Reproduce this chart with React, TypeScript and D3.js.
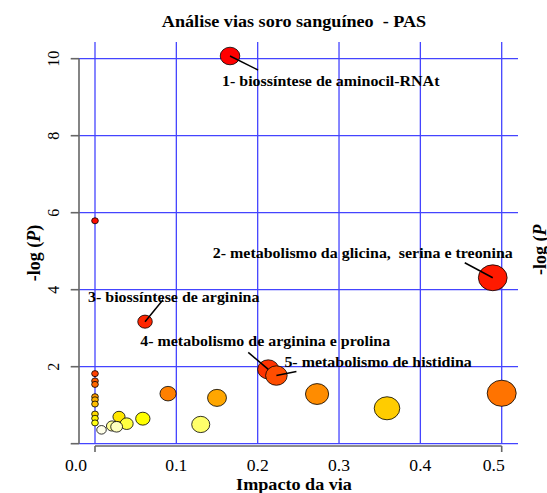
import React from "react";
import * as d3 from "d3";

// ---- data ----
const impact = [0.166, 0.489, 0.0615, 0.213, 0.223, 0, 0, 0, 0, 0, 0, 0, 0, 0, 0, 0.5, 0.0898, 0.273, 0.15, 0.359, 0.0295, 0.0588, 0.039, 0.13, 0.021, 0.0266, 0.008];
const negLogP = [10.07, 4.31, 3.17, 1.93, 1.77, 5.79, 1.82, 1.63, 1.54, 1.22, 1.14, 1.03, 0.77, 0.66, 0.54, 1.31, 1.3, 1.29, 1.19, 0.92, 0.7, 0.65, 0.52, 0.5, 0.46, 0.44, 0.36];
const annotLabels = [
  "1- biossíntese de aminocil-RNAt",
  "2- metabolismo da glicina,  serina e treonina",
  "3- biossíntese de arginina",
  "4- metabolismo de arginina e prolina",
  "5- metabolismo de histidina",
];
const xTicks = [0, 0.1, 0.2, 0.3, 0.4, 0.5];
const xTickLabels = ["0.0", "0.1", "0.2", "0.3", "0.4", "0.5"];
const yTicks = [0, 2, 4, 6, 8, 10];
const yTickLabels = ["", "2", "4", "6", "8", "10"];
const title = "Análise vias soro sanguíneo  - PAS";
const xTitle = "Impacto da via";

// R heat.colors(n)
function heatColors(n: number): string[] {
  const j = Math.floor(n / 4);
  const i = n - j;
  const out: string[] = [];
  for (let k = 0; k < i; k++) {
    const h = (i > 1 ? k / (i - 1) : 0) * (1 / 6);
    const g = Math.round(255 * 6 * h);
    out.push(d3.rgb(255, g, 0).formatHex());
  }
  for (let k = 0; k < j; k++) {
    const s0 = 1 - 1 / (2 * j);
    const s1 = 1 / (2 * j);
    const s = j > 1 ? s0 + (k * (s1 - s0)) / (j - 1) : s0;
    out.push(d3.rgb(255, 255, Math.round(255 * (1 - s))).formatHex());
  }
  return out;
}

const FONT = "'Liberation Serif', 'Times New Roman', serif";
const SX = 1.1; // the reference is slightly stretched horizontally

function SText(props: { x: number; y: number; anchor?: string; size: number; bold?: boolean; children: any }) {
  return (
    <text
      transform={`translate(${props.x},${props.y}) scale(${SX},1)`}
      textAnchor={(props.anchor || "start") as any}
      fontSize={props.size}
      fontWeight={props.bold ? "bold" : "normal"}
      style={{ whiteSpace: "pre" }}
    >
      {props.children}
    </text>
  );
}

export default function App() {
  const W = 547, H = 493;
  const x = d3.scaleLinear().domain([0, 0.5]).range([95, 501.7]);
  const y = d3.scaleLinear().domain([0, 10]).range([443.7, 58.7]);
  const r = d3.scaleSqrt().domain([0, 0.5]).range([3.35, 14.5]);
  const aspect = 0.9;

  const n = impact.length;
  const order = d3.range(n).sort((a, b) => negLogP[b] - negLogP[a]);
  const pal = heatColors(n);
  const color: string[] = new Array(n);
  order.forEach((idx, rank) => (color[idx] = pal[rank]));

  // annotation offsets relative to bubble centre
  const annot = [
    { line: [28, 14], text: [-8, 30], anchor: "start" },
    { line: [-28, -15], text: [20, -20], anchor: "end" },
    { line: [18, -22], text: [-57, -20], anchor: "start" },
    { line: [-20, -17], text: [-128, -23], anchor: "start" },
    { line: [20, -4], text: [8, -9], anchor: "start" },
  ];
  const xLabelDx = [-19, 0, 0, 0, 0, -8];

  const gridColor = "#4444ff";
  const axisColor = "#666666";
  const gridLeft = 79, gridRight = 518, gridTop = 42;

  return (
    <svg width={W} height={H} style={{ position: "absolute", left: 0, top: 0, background: "#fff" }} fontFamily={FONT}>
      <rect width={W} height={H} fill="#fff" />
      {/* title */}
      <SText x={294} y={27} anchor="middle" size={16.5} bold>
        {title}
      </SText>

      {/* grid */}
      {xTicks.map((t, i) => (
        <line key={"gx" + i} x1={x(t)} x2={x(t)} y1={gridTop} y2={y(0)} stroke={gridColor} strokeWidth={1.3} />
      ))}
      {yTicks.map((t, i) => (
        <line key={"gy" + i} x1={gridLeft} x2={gridRight} y1={y(t)} y2={y(t)} stroke={gridColor} strokeWidth={1.3} />
      ))}

      {/* y axis */}
      <line x1={79} x2={79} y1={y(0)} y2={y(10)} stroke={axisColor} strokeWidth={1.6} />
      {yTicks.map((t, i) => (
        <g key={"yt" + i}>
          <line x1={70.7} x2={79} y1={y(t)} y2={y(t)} stroke={axisColor} strokeWidth={1.6} />
          {yTickLabels[i] && (
            <text transform={`translate(59,${y(t)}) rotate(-90)`} textAnchor="middle" fontSize={16}>
              {yTickLabels[i]}
            </text>
          )}
        </g>
      ))}

      {/* x axis */}
      <line x1={x(0)} x2={x(0.5)} y1={446} y2={446} stroke={axisColor} strokeWidth={1.6} />
      {[0, 0.5].map((t, i) => (
        <line key={"xt" + i} x1={x(t)} x2={x(t)} y1={446} y2={452} stroke={axisColor} strokeWidth={1.6} />
      ))}
      {xTicks.map((t, i) => (
        <SText key={"xl" + i} x={x(t) + xLabelDx[i]} y={471} anchor="middle" size={16}>
          {xTickLabels[i]}
        </SText>
      ))}

      {/* axis titles */}
      <SText x={294} y={490} anchor="middle" size={16.5} bold>
        {xTitle}
      </SText>
      <text transform={`translate(40,253) rotate(-90)`} textAnchor="middle" fontWeight="bold" fontSize={18}>
        -log (<tspan fontStyle="italic">P</tspan>)
      </text>
      <text transform={`translate(546,275) rotate(-90)`} textAnchor="start" fontWeight="bold" fontSize={18}>
        -log (<tspan fontStyle="italic">P</tspan>
      </text>

      {/* bubbles */}
      {order.map((i) => (
        <ellipse
          key={"b" + i}
          cx={x(impact[i])}
          cy={y(negLogP[i])}
          rx={r(impact[i])}
          ry={r(impact[i]) * aspect}
          fill={color[i]}
          stroke="#000"
          strokeWidth={0.8}
        />
      ))}

      {/* annotations */}
      {annotLabels.map((lab, i) => {
        const cx = x(impact[i]);
        const cy = y(negLogP[i]);
        const a = annot[i];
        return (
          <g key={"a" + i}>
            <line x1={cx} y1={cy} x2={cx + a.line[0]} y2={cy + a.line[1]} stroke="#000" strokeWidth={1.5} />
            <SText x={cx + a.text[0]} y={cy + a.text[1]} anchor={a.anchor} size={14.5} bold>
              {lab}
            </SText>
          </g>
        );
      })}
    </svg>
  );
}
